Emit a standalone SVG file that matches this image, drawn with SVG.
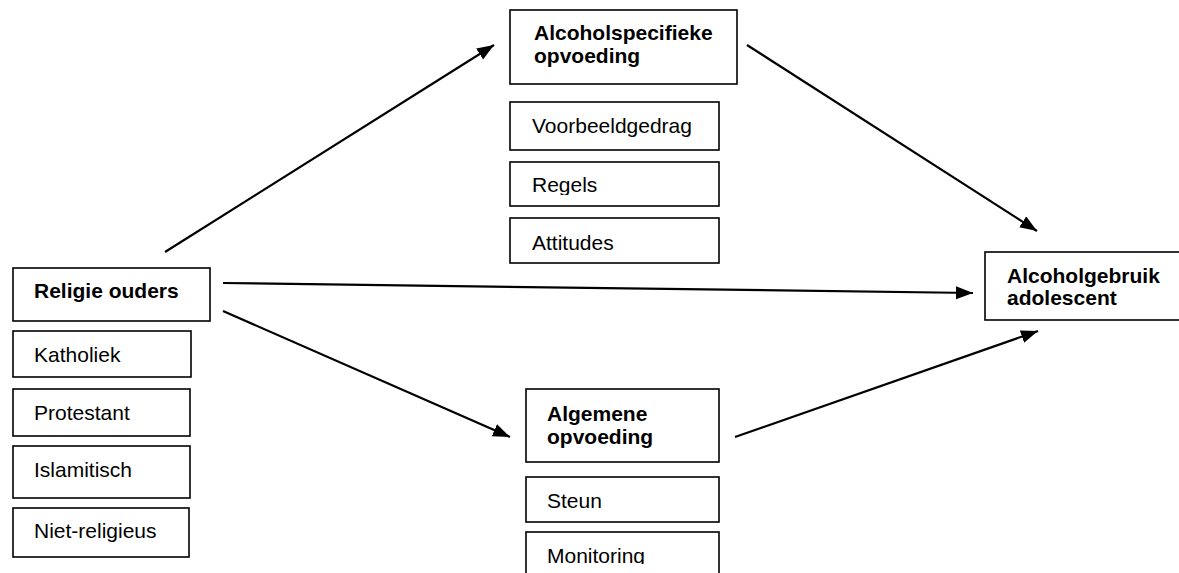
<svg xmlns="http://www.w3.org/2000/svg" width="1179" height="573" viewBox="0 0 1179 573">
<defs>
<style>
.box{fill:#fff;stroke:#000;stroke-width:1.6}
.t{font-family:"Liberation Sans",Arial,sans-serif;font-size:21px;fill:#000}
.b{font-weight:bold}
.c{fill:none;stroke:#000;stroke-width:2.2;marker-end:url(#ah)}
</style>
<marker id="ah" markerUnits="userSpaceOnUse" markerWidth="18" markerHeight="14" refX="17" refY="6.5" orient="auto">
<path d="M0,0 L17,6.5 L0,13 z" fill="#000"/>
</marker>
<clipPath id="clipRegels"><rect x="510" y="160" width="210" height="35"/></clipPath>
<clipPath id="clipMon"><rect x="526" y="530" width="195" height="34"/></clipPath>
</defs>
<rect width="1179" height="573" fill="#fff"/>
<g id="connectors">
<line class="c" x1="165" y1="252" x2="494" y2="45"/>
<line class="c" x1="223" y1="283" x2="973" y2="293"/>
<line class="c" x1="223" y1="311" x2="510" y2="437"/>
<line class="c" x1="747" y1="45" x2="1037" y2="231"/>
<line class="c" x1="735" y1="437" x2="1038" y2="331"/>
</g>
<g id="religie-ouders">
<rect class="box" x="13" y="268" width="197" height="53"/>
<text class="t b" x="34" y="298">Religie ouders</text>
</g>
<g id="katholiek">
<rect class="box" x="13" y="331" width="178" height="46"/>
<text class="t" x="34" y="362">Katholiek</text>
</g>
<g id="protestant">
<rect class="box" x="13" y="389" width="177" height="47"/>
<text class="t" x="34" y="420">Protestant</text>
</g>
<g id="islamitisch">
<rect class="box" x="13" y="446" width="177" height="52"/>
<text class="t" x="34" y="477">Islamitisch</text>
</g>
<g id="niet-religieus">
<rect class="box" x="13" y="508" width="176" height="49"/>
<text class="t" x="34" y="538">Niet-religieus</text>
</g>
<g id="alcoholspecifieke-opvoeding">
<rect class="box" x="510" y="10" width="227" height="74"/>
<text class="t b" x="534" y="40">Alcoholspecifieke</text>
<text class="t b" x="534" y="63">opvoeding</text>
</g>
<g id="voorbeeldgedrag">
<rect class="box" x="510" y="102" width="209" height="48"/>
<text class="t" x="532" y="133">Voorbeeldgedrag</text>
</g>
<g id="regels">
<rect class="box" x="510" y="162" width="209" height="44"/>
<text class="t" x="532" y="192" clip-path="url(#clipRegels)">Regels</text>
</g>
<g id="attitudes">
<rect class="box" x="510" y="218" width="209" height="45"/>
<text class="t" x="532" y="250">Attitudes</text>
</g>
<g id="algemene-opvoeding">
<rect class="box" x="526" y="389" width="193" height="73"/>
<text class="t b" x="547" y="421">Algemene</text>
<text class="t b" x="547" y="444">opvoeding</text>
</g>
<g id="steun">
<rect class="box" x="526" y="477" width="193" height="45"/>
<text class="t" x="547" y="508">Steun</text>
</g>
<g id="monitoring">
<rect class="box" x="526" y="532" width="193" height="60"/>
<text class="t" x="547" y="563" clip-path="url(#clipMon)">Monitoring</text>
</g>
<g id="alcoholgebruik-adolescent">
<rect class="box" x="985" y="252" width="220" height="68"/>
<text class="t b" x="1007" y="283">Alcoholgebruik</text>
<text class="t b" x="1007" y="305">adolescent</text>
</g>
</svg>
